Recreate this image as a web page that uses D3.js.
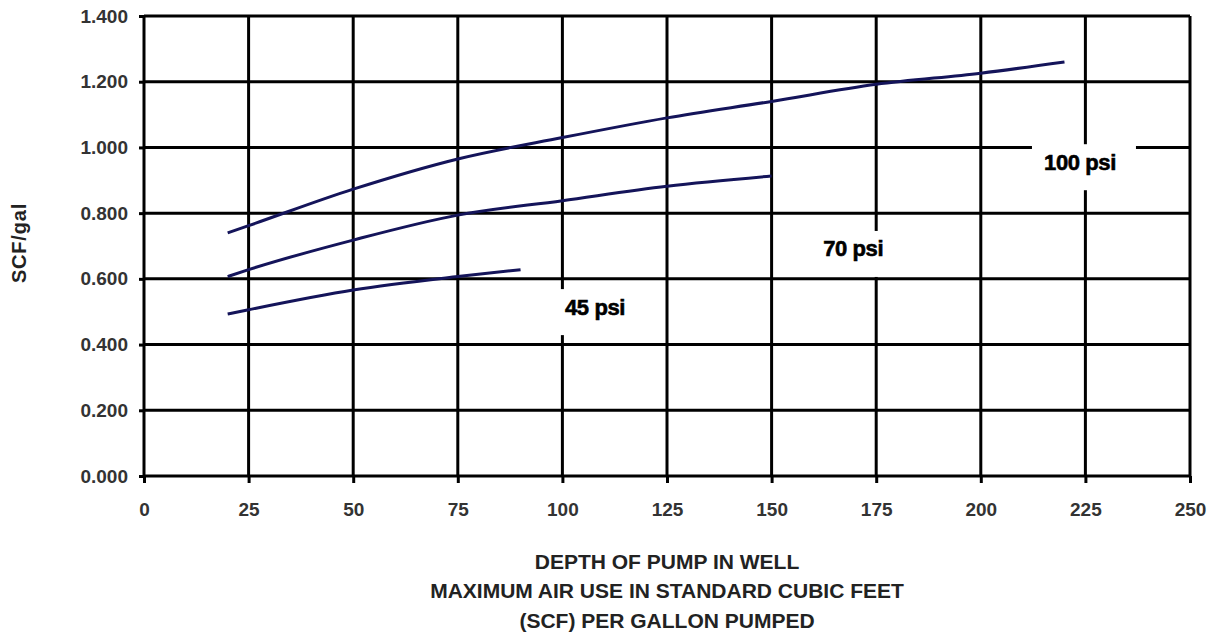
<!DOCTYPE html>
<html>
<head>
<meta charset="utf-8">
<script src="https://cdn.jsdelivr.net/npm/d3@7"></script>
<style>
  html, body { margin: 0; padding: 0; background: #fff; }
  svg { display: block; font-family: "Liberation Sans", Arial, sans-serif; }
</style>
</head>
<body>
<svg id="chart" width="1216" height="633"></svg>
<script>
// ---- Data ----
const xTicks = [0, 25, 50, 75, 100, 125, 150, 175, 200, 225, 250];
const yTicks = [0, 0.2, 0.4, 0.6, 0.8, 1.0, 1.2, 1.4];

const depth100 = [20, 25, 50, 75, 100, 125, 150, 175, 200, 220];
const scf100   = [0.740, 0.762, 0.873, 0.965, 1.030, 1.090, 1.140, 1.192, 1.226, 1.260];

const depth70 = [20, 25, 50, 75, 100, 125, 150];
const scf70   = [0.607, 0.628, 0.718, 0.794, 0.838, 0.882, 0.913];

const depth45 = [20, 25, 50, 75, 90];
const scf45   = [0.493, 0.506, 0.566, 0.607, 0.628];

const seriesLabels = ["100 psi", "70 psi", "45 psi"];
const labelX = [223.7, 169.5, 107.8];
const labelY = [0.955, 0.691, 0.514];

const yTitle = "SCF/gal";
const xTitleLines = ["DEPTH OF PUMP IN WELL", "MAXIMUM AIR USE IN STANDARD CUBIC FEET", "(SCF) PER GALLON PUMPED"];

// ---- Layout ----
const svg = d3.select("#chart");
const x = d3.scaleLinear().domain([0, 250]).range([144, 1190]);
const y = d3.scaleLinear().domain([0, 1.4]).range([476, 16]);

const g = svg.append("g");

// gridlines
g.append("g").selectAll("line").data(xTicks).join("line")
  .attr("x1", d => x(d)).attr("x2", d => x(d))
  .attr("y1", y(1.4)).attr("y2", y(0))
  .attr("stroke", "#000").attr("stroke-width", 3);
g.append("g").selectAll("line").data(yTicks).join("line")
  .attr("x1", x(0)).attr("x2", x(250))
  .attr("y1", d => y(d)).attr("y2", d => y(d))
  .attr("stroke", "#000").attr("stroke-width", 3);

// axes
const xAxis = d3.axisBottom(x).tickValues(xTicks).tickSize(7).tickPadding(20).tickFormat(d3.format("d"));
const yAxis = d3.axisLeft(y).tickValues(yTicks).tickSize(5).tickPadding(11).tickFormat(d3.format(".3f"));

const gx = svg.append("g").attr("transform", `translate(0,${y(0)})`).call(xAxis);
const gy = svg.append("g").attr("transform", `translate(${x(0)},0)`).call(yAxis);
[gx, gy].forEach(a => {
  a.select(".domain").remove();
  a.selectAll(".tick line").attr("stroke", "#000").attr("stroke-width", 3);
  a.selectAll(".tick text").attr("fill", "#333").attr("font-size", 19).attr("font-weight", "bold")
    .attr("font-family", "'Liberation Sans', Arial, sans-serif");
});

// label backgrounds (white boxes that interrupt the grid)
const labelData = seriesLabels.map((t, i) => ({ t, x: labelX[i], y: labelY[i] }));
svg.append("g").selectAll("rect").data(labelData).join("rect")
  .attr("x", d => x(d.x) - 48).attr("y", d => y(d.y) - 18)
  .attr("width", 104).attr("height", 46)
  .attr("fill", "#fff");

// lines
const line = d3.line().x(d => x(d[0])).y(d => y(d[1])).curve(d3.curveMonotoneX);
const series = [
  d3.zip(depth100, scf100),
  d3.zip(depth70, scf70),
  d3.zip(depth45, scf45)
];
svg.append("g").selectAll("path").data(series).join("path")
  .attr("d", line)
  .attr("fill", "none")
  .attr("stroke", "#14145a")
  .attr("stroke-width", 3);

// series labels
svg.append("g").selectAll("text").data(labelData).join("text")
  .attr("x", d => x(d.x)).attr("y", d => y(d.y))
  .attr("text-anchor", "middle").attr("dominant-baseline", "central")
  .attr("font-size", 22).attr("font-weight", "bold")
  .attr("letter-spacing", -0.4)
  .attr("stroke", "#000").attr("stroke-width", 0.6)
  .attr("fill", "#000")
  .text(d => d.t);

// axis titles
svg.append("text")
  .attr("transform", `translate(19,243) rotate(-90)`)
  .attr("text-anchor", "middle").attr("dominant-baseline", "central")
  .attr("font-size", 20).attr("font-weight", "bold").attr("fill", "#222")
  .attr("letter-spacing", 0.8)
  .text(yTitle);

svg.append("g").selectAll("text").data(xTitleLines).join("text")
  .attr("x", 667).attr("y", (d, i) => 561 + i * 29.5)
  .attr("text-anchor", "middle").attr("dominant-baseline", "central")
  .attr("font-size", 21).attr("font-weight", "bold").attr("fill", "#222")
  .text(d => d);
</script>
</body>
</html>
